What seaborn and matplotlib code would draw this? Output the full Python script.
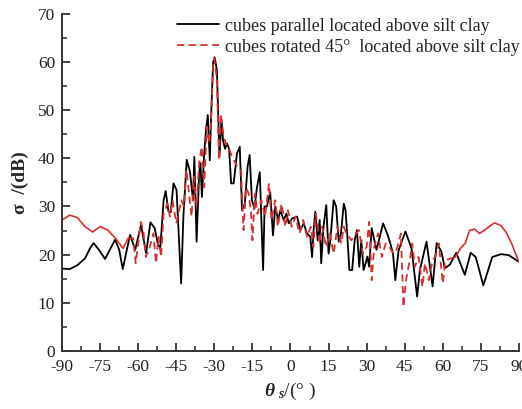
import numpy as np
import pandas as pd
import matplotlib
matplotlib.use("Agg")
import matplotlib.pyplot as plt
from matplotlib.ticker import MultipleLocator
import seaborn as sns

# Scattering angle (deg) and backscatter cross-section (dB)
theta_par = [
    -90, -87, -84, -81, -79, -77.6, -75.5, -73.1, -71, -69.1,
    -67.5, -66.1, -64.5, -63.2, -61.2, -58.9, -56.9, -55.2, -53.5, -52.2,
    -51.3, -50, -49.2, -48.1, -47.2, -46.1, -44.9, -43.1, -42.2, -40.9,
    -39.6, -38.4, -37.9, -37, -36, -35.5, -34.9, -34, -33.3, -32.6,
    -31.8, -31.2, -30.5, -29.9, -29, -28, -27.2, -26.6, -25.8, -25,
    -24.2, -23.4, -22.4, -21.1, -20, -19.1, -18, -16.9, -16.1, -15.2,
    -14.2, -13.2, -12.1, -10.8, -10.2, -9.3, -8, -6.9, -6, -4.9,
    -4, -2.7, -1.6, -0.7, 0.6, 2.6, 3.9, 5.2, 6.5, 7.8,
    8.5, 9.1, 9.8, 10.7, 11.5, 12.1, 13, 14.1, 15, 15.7,
    17, 18, 19, 19.9, 21, 21.7, 22.5, 23.2, 24.3, 25.3,
    26.2, 27.1, 27.9, 28.8, 29.6, 30.3, 31, 32, 33.9, 36.5,
    38.5, 39.5, 40.4, 41.3, 42.6, 45.3, 47.7, 49.9, 51, 53.6,
    56, 57.6, 59.5, 60.8, 62.8, 65.3, 68.7, 71, 73, 76,
    79.5, 83, 86, 90,
]
sigma_par = [
    17.1, 17.0, 17.8, 19.2, 21.3, 22.4, 21.0, 19.1, 21.2, 23.1,
    21.0, 17.0, 21.0, 24.1, 21.0, 26.2, 20.3, 26.7, 25.5, 22.0,
    21.5, 31.3, 33.2, 29.0, 28.8, 34.8, 33.4, 14.0, 28.0, 39.7,
    37.2, 31.3, 40.3, 22.7, 36.9, 39.0, 32.0, 41.0, 45.9, 49.0,
    39.6, 50.0, 60.0, 61.0, 58.3, 40.3, 48.0, 43.8, 42.0, 43.1,
    42.0, 34.8, 34.8, 41.0, 42.4, 29.2, 30.6, 38.3, 40.7, 31.3,
    29.6, 34.0, 37.1, 16.8, 30.0, 30.0, 33.0, 24.0, 30.0, 27.2,
    29.2, 27.2, 28.5, 26.5, 27.5, 27.9, 25.1, 26.5, 24.4, 23.7,
    19.5, 25.1, 28.9, 23.0, 27.2, 18.2, 25.8, 30.3, 20.2, 23.0,
    31.3, 30.0, 22.7, 24.4, 30.6, 29.2, 23.0, 16.8, 16.8, 23.0,
    25.1, 17.5, 23.0, 16.8, 18.2, 19.6, 17.5, 25.5, 21.0, 26.5,
    23.8, 22.0, 20.2, 14.7, 20.9, 24.8, 21.3, 11.3, 16.8, 22.7,
    13.4, 22.4, 20.6, 17.2, 17.9, 20.4, 15.8, 20.4, 19.5, 13.6,
    19.5, 20.1, 19.9, 18.5,
]

theta_rot = [
    -90, -87, -84, -81, -78, -75, -72, -69, -66, -64,
    -62, -61, -59, -58, -57, -55.5, -54, -53, -52, -51,
    -50, -48.5, -47.5, -46.5, -45, -43, -42, -41, -40, -39,
    -38, -37, -36, -35, -34, -33, -32, -31.3, -30.5, -30,
    -29, -28.2, -27.5, -26.5, -25.5, -24.5, -23, -21, -19.5, -18.5,
    -17.5, -16.5, -15.5, -15, -14, -13, -11.5, -10, -8.5, -7.5,
    -6, -5, -3.5, -2, -1, 0.5, 2, 3.5, 5, 6.5,
    8, 9, 10, 11.5, 12.5, 14, 15.5, 17, 18.5, 20,
    21, 22, 24, 26, 27, 28.5, 30, 31, 32, 33,
    34.5, 36, 37.5, 39, 40.5, 42, 43.5, 44.5, 45.5, 47,
    48, 49, 50.5, 52, 53, 54.5, 56, 57, 58.5, 60,
    61, 63, 65, 67, 69, 70.5, 72.5, 74.5, 77, 79,
    80.5, 83, 85, 87, 90,
]
sigma_rot = [
    27.2, 28.2, 27.7, 25.8, 24.7, 25.8, 25.1, 23.4, 21.3, 23.4,
    23.4, 18.2, 26.8, 25.0, 19.5, 21.5, 24.4, 18.2, 23.7, 19.5,
    28.5, 30.6, 27.9, 31.3, 26.5, 31.3, 30.0, 37.6, 32.7, 27.9,
    36.2, 30.0, 39.0, 42.4, 34.0, 46.6, 43.1, 48.0, 59.0, 60.8,
    56.3, 39.6, 49.3, 45.2, 43.1, 42.4, 40.3, 38.3, 37.6, 25.1,
    34.0, 32.7, 28.5, 23.0, 32.7, 28.5, 31.3, 27.9, 34.8, 27.2,
    31.3, 25.8, 30.6, 25.8, 29.2, 25.8, 27.9, 24.4, 27.2, 23.7,
    25.8, 21.6, 28.5, 22.3, 25.8, 21.6, 24.4, 20.2, 25.8, 22.3,
    25.8, 24.4, 23.0, 24.4, 25.1, 20.2, 21.6, 26.8, 14.7, 21.6,
    24.4, 19.5, 22.3, 21.6, 20.2, 21.3, 24.4, 9.1, 14.7, 18.8,
    22.3, 17.5, 19.5, 13.3, 18.2, 14.7, 18.8, 19.5, 22.3, 14.0,
    18.8, 19.2, 19.5, 21.3, 22.5, 25.0, 25.3, 24.4, 25.3, 26.1,
    26.6, 26.0, 24.6, 22.5, 18.5,
]

label_par = "cubes parallel located above silt clay"
label_rot = "cubes rotated 45\u00b0  located above silt clay"
x_ticks = list(range(-90, 91, 15))
y_ticks = list(range(0, 71, 10))

sns.set_style("ticks")
plt.rcParams["font.family"] = ["Liberation Serif", "DejaVu Serif"]
plt.rcParams["axes.unicode_minus"] = False
plt.rcParams["mathtext.fontset"] = "custom"
plt.rcParams["mathtext.bf"] = "Liberation Serif:italic:bold"
plt.rcParams["mathtext.rm"] = "Liberation Serif"
plt.rcParams["mathtext.it"] = "Liberation Serif:italic"

df_par = pd.DataFrame({"theta": theta_par, "sigma": sigma_par})
df_rot = pd.DataFrame({"theta": theta_rot, "sigma": sigma_rot})

fig = plt.figure(figsize=(5.22, 4.09), dpi=100)
ax = fig.add_axes([0.119, 0.142, 0.875, 0.824])

red = "#d83030"
sns.lineplot(data=df_par, x="theta", y="sigma", ax=ax, color="black",
             linewidth=1.3, label=label_par, sort=False)

# the rotated-cube curve is dashed over the oscillating middle band and solid
# over the smooth tails
mid = df_rot[(df_rot.theta >= -64) & (df_rot.theta <= 63)]
left = df_rot[df_rot.theta <= -64]
right = df_rot[df_rot.theta >= 63]
sns.lineplot(data=mid, x="theta", y="sigma", ax=ax, color=red,
             linewidth=1.3, sort=False, label=label_rot)
ax.lines[-1].set_dashes((4, 2.5))
sns.lineplot(data=left, x="theta", y="sigma", ax=ax, color=red,
             linewidth=1.2, sort=False)
sns.lineplot(data=right, x="theta", y="sigma", ax=ax, color=red,
             linewidth=1.2, sort=False)

ax.set_xlim(-90, 90)
ax.set_ylim(0, 70)
ax.set_xticks(x_ticks)
ax.set_yticks(y_ticks)
ax.xaxis.set_minor_locator(MultipleLocator(7.5))
ax.yaxis.set_minor_locator(MultipleLocator(5))
ax.tick_params(which="major", direction="in", length=6, width=1.2,
               labelsize=12.5, colors="#222222")
ax.tick_params(which="minor", direction="in", length=3.5, width=1.1)
ax.tick_params(axis="x", pad=6)
ax.tick_params(axis="y", pad=5)
for side in ("left", "bottom"):
    ax.spines[side].set_linewidth(1.4)
    ax.spines[side].set_color("#333333")
sns.despine(ax=ax)

ax.set_xlabel(r"$\mathbf{\theta}\;{}_{\mathbf{s}}$" + "/(\u00b0 )",
              fontsize=14, labelpad=4)
ax.set_ylabel("\u03c3  /(dB)", fontsize=14, fontweight="bold", labelpad=6)

leg = ax.legend(loc="upper left", bbox_to_anchor=(0.340, 0.957),
                bbox_transform=fig.transFigure, frameon=False,
                fontsize=13, handlelength=2.3, handletextpad=0.35,
                labelspacing=0.22, borderpad=0, borderaxespad=0)
leg.get_lines()[1].set_dashes((4, 2.5))

fig.savefig("out.png", dpi=100)
